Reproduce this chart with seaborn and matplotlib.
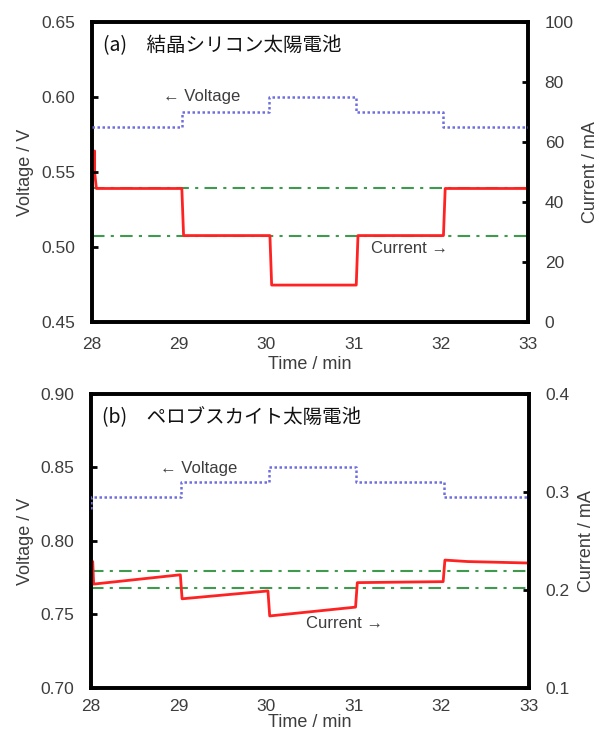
import matplotlib
matplotlib.use("Agg")
import matplotlib.pyplot as plt
import seaborn as sns
import pandas as pd

# ---------------- data ----------------
# (a) crystalline silicon
a_v_time = [28.0, 29.03, 29.03, 30.03, 30.03, 31.03, 31.03, 32.03, 32.03, 33.0]
a_v_val = [0.580, 0.580, 0.590, 0.590, 0.600, 0.600, 0.590, 0.590, 0.580, 0.580]
a_i_time = [28.03, 28.03, 28.05, 29.03, 29.05, 30.04, 30.06, 31.03, 31.05, 32.03, 32.05, 33.0]
a_i_val = [57.0, 50.0, 44.5, 44.5, 28.8, 28.8, 12.3, 12.3, 28.8, 28.8, 44.5, 44.5]
a_ref = [44.5, 28.8]

# (b) perovskite
b_v_time = [28.0, 28.0, 29.03, 29.03, 30.03, 30.03, 31.03, 31.03, 32.03, 32.03, 33.0]
b_v_val = [0.822, 0.830, 0.830, 0.840, 0.840, 0.850, 0.850, 0.840, 0.840, 0.830, 0.830]
b_i_time = [28.02, 28.03, 29.02, 29.04, 30.02, 30.04, 31.02, 31.04, 32.02, 32.04, 32.3, 33.0]
b_i_val = [0.229, 0.206, 0.2155, 0.191, 0.199, 0.1735, 0.1825, 0.2075, 0.2085, 0.2305, 0.229, 0.2275]
b_ref = [0.2194, 0.2020]

titles = ["(a)\u3000結晶シリコン太陽電池", "(b)\u3000ペロブスカイト太陽電池"]
x_ticks = [28, 29, 30, 31, 32, 33]
a_vticks = [0.45, 0.50, 0.55, 0.60, 0.65]
a_iticks = [0, 20, 40, 60, 80, 100]
b_vticks = [0.70, 0.75, 0.80, 0.85, 0.90]
b_iticks = [0.1, 0.2, 0.3, 0.4]

# ---------------- style ----------------
sns.set_style("white")
plt.rcParams["font.family"] = ["Liberation Sans", "DejaVu Sans"]
TXT = "#3d3d3d"
VCOL = "#6e6ee0"
ICOL = "#ff2222"
GCOL = "#3f9a50"

fig = plt.figure(figsize=(6.01, 7.40), dpi=100)
axA = fig.add_axes([0.1531, 0.5649, 0.7255, 0.4054])
axB = fig.add_axes([0.1514, 0.0703, 0.7288, 0.3973])


def panel(ax, vt, vv, it, iv, ref, vticks, iticks, vfmt, ifmt, title,
          vlab_xy, ilab_xy, xpad, xlpad):
    ax2 = ax.twinx()
    dv = pd.DataFrame({"t": vt, "v": vv})
    di = pd.DataFrame({"t": it, "i": iv})
    for r in ref:
        ax2.axhline(r, color=GCOL, lw=1.5, ls=(0, (6, 3, 1.5, 3)), zorder=1)
    sns.lineplot(data=dv, x="t", y="v", ax=ax, color=VCOL, lw=1.8,
                 ls=(0, (1, 1)), estimator=None, sort=False, zorder=3)
    sns.lineplot(data=di, x="t", y="i", ax=ax2, color=ICOL, lw=2.0,
                 estimator=None, sort=False, zorder=3)
    ax.set_xlim(28, 33)
    ax.set_ylim(vticks[0], vticks[-1])
    ax2.set_ylim(iticks[0], iticks[-1])
    ax.set_xticks(x_ticks)
    ax.set_xticklabels([str(x) for x in x_ticks])
    ax.set_yticks(vticks)
    ax.set_yticklabels([vfmt.format(v) for v in vticks])
    ax2.set_yticks(iticks)
    ax2.set_yticklabels([ifmt.format(v) for v in iticks])
    for a in (ax, ax2):
        for s in a.spines.values():
            s.set_color("black")
            s.set_linewidth(2.6)
            s.set_visible(True)
        a.tick_params(direction="in", length=4, width=2, colors="black",
                      labelcolor=TXT, labelsize=12.5, pad=12)
    ax.tick_params(axis="x", pad=xpad)
    ax.set_xlabel("Time / min", color=TXT, fontsize=13, labelpad=xlpad)
    ax.set_ylabel("Voltage / V", color=TXT, fontsize=13, labelpad=5)
    ax2.set_ylabel("Current / mA", color=TXT, fontsize=13, labelpad=6)
    ax.text(0.025, 0.955, title, transform=ax.transAxes, ha="left", va="top",
            fontsize=14, color="#111111",
            family=["Noto Sans CJK JP", "DejaVu Sans"], zorder=5)
    ax.text(vlab_xy[0], vlab_xy[1], "\u2190 Voltage", transform=ax.transAxes,
            ha="left", va="center", fontsize=12, color=TXT, zorder=5)
    ax.text(ilab_xy[0], ilab_xy[1], "Current \u2192", transform=ax.transAxes,
            ha="left", va="center", fontsize=12, color=TXT, zorder=5)
    ax.set_zorder(ax2.get_zorder() + 1)
    ax.patch.set_visible(False)
    return ax2


panel(axA, a_v_time, a_v_val, a_i_time, a_i_val, a_ref, a_vticks, a_iticks,
      "{:.2f}", "{:.0f}", titles[0], (0.162, 0.75), (0.64, 0.245), 11, 3)
panel(axB, b_v_time, b_v_val, b_i_time, b_i_val, b_ref, b_vticks, b_iticks,
      "{:.2f}", "{:.1f}", titles[1], (0.157, 0.745), (0.49, 0.22), 8, 0)

fig.savefig("out.png", dpi=100)
